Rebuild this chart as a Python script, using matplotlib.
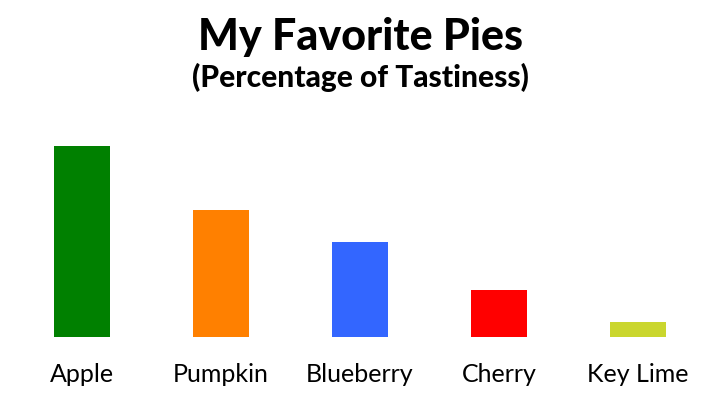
import matplotlib.pyplot as plt

pies = ['Apple', 'Pumpkin', 'Blueberry', 'Cherry', 'Key Lime']
tastiness = [40, 26.7, 20, 10, 3.3]
colors = ['#008000', '#ff8000', '#3366ff', '#ff0000', '#cad62e']

plt.rcParams['font.family'] = ['Lato', 'DejaVu Sans']

fig = plt.figure(figsize=(7.2, 4.05), dpi=100)
ax = fig.add_axes([0, 0.1667, 1, 0.4728])

x = range(len(pies))
ax.bar(x, tastiness, width=0.4, color=colors)
ax.set_xlim(-0.59, 4.59)
ax.set_ylim(0, 40)

# category names sit below the bars, baseline about 44 px under the axis
for i, name in enumerate(pies):
    ax.text(i, -0.232, name, transform=ax.get_xaxis_transform(),
            ha='center', va='baseline', fontsize=18, color='black')

for spine in ax.spines.values():
    spine.set_visible(False)
ax.set_xticks([])
ax.set_yticks([])

fig.text(0.5, 1 - 50 / 405, 'My Favorite Pies', ha='center', va='baseline',
         fontsize=31, fontweight='black')
fig.text(0.5, 1 - 87 / 405, '(Percentage of Tastiness)', ha='center',
         va='baseline', fontsize=21.5, fontweight='black')

fig.savefig('out.png', dpi=100)
